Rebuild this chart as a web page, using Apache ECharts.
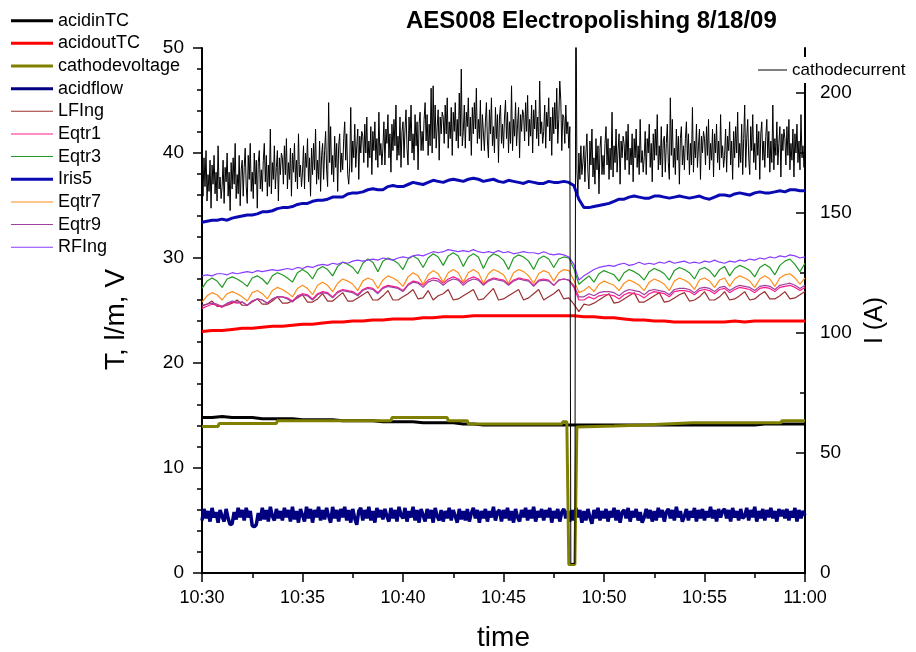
<!DOCTYPE html>
<html>
<head>
<meta charset="utf-8">
<script src="https://cdn.jsdelivr.net/npm/echarts@6/dist/echarts.min.js"></script>
<style>
  html, body { margin: 0; padding: 0; background: #fff; }
  #chart { width: 916px; height: 652px; }
</style>
</head>
<body>
<div id="chart"></div>
<script>
/* minutes after 10:30 on the x axis */
var xTickLabels = ['10:30', '10:35', '10:40', '10:45', '10:50', '10:55', '11:00'];
var rightTicks = [0, 50, 100, 150, 200];

function steps(step, count) {
    var a = [];
    for (var i = 0; i < count; i++) a.push(Math.round(i * step * 1000) / 1000);
    return a;
}
var tDense = steps(0.05, 601); // 10:30 .. 11:00, every 3 s
var tFine = steps(0.1, 301);   // every 6 s
var tMid = steps(0.25, 121);   // every 15 s
var tCoarse = steps(0.5, 61);  // every 30 s

// right axis, A (one row = one minute)
var cathodecurrent = [
    168,157,173,161,176,155,166,159,172,152,170,162,174,158,167,155,178,160,165,156,
    161,172,154,169,163,175,157,167,151,171,160,173,162,179,156,166,158,174,153,168,
    172,157,169,177,161,154,174,164,179,159,167,156,175,162,172,152,171,176,160,168,
    159,172,179,163,174,157,170,161,185,158,171,164,178,160,169,176,155,173,166,175,
    173,162,178,166,181,160,171,164,177,157,175,167,179,163,172,160,183,165,170,161,
    167,178,160,175,169,181,163,173,157,177,166,179,168,185,162,172,164,180,159,174,
    179,164,176,184,168,161,196,171,186,166,174,163,182,169,179,159,178,183,167,175,
    168,181,188,172,183,166,162,170,194,167,180,173,187,169,178,185,164,182,175,184,
    182,171,187,175,190,169,180,173,186,166,184,176,188,172,181,169,192,174,179,170,
    177,188,170,185,179,191,173,183,167,187,176,189,178,195,172,182,174,190,169,184,
    188,173,185,193,177,170,190,180,195,175,183,172,191,178,188,168,187,192,176,184,
    176,189,196,180,191,174,187,178,202,175,203,181,195,177,186,193,172,190,183,192,
    190,179,195,183,198,177,188,181,194,174,192,184,196,180,189,177,200,182,210,178,
    184,195,177,192,186,198,180,190,174,194,183,196,185,202,179,189,181,197,176,191,
    191,176,188,196,180,173,193,183,198,178,186,175,194,181,191,171,190,195,179,187,
    177,190,197,181,192,175,188,179,203,176,189,182,196,178,187,194,173,191,184,193,
    191,180,196,184,199,178,189,182,195,175,193,185,197,181,190,178,205,183,188,179,
    184,195,177,192,186,198,180,190,174,194,183,196,185,202,179,189,205,197,176,191,
    190,179,195,183,188,177,186,4,4,4,4,4,260,168,158,175,164,178,166,171,
    178,163,175,183,167,160,180,170,185,165,173,162,181,168,178,158,177,182,166,174,
    166,179,186,170,181,164,177,168,192,165,178,171,185,167,176,183,162,180,173,182,
    179,168,184,172,187,166,177,170,183,163,181,173,185,169,178,166,189,171,176,167,
    173,184,166,181,175,187,169,179,163,183,172,185,174,191,168,178,170,186,165,180,
    182,167,179,187,171,164,198,174,189,169,177,166,185,172,182,162,181,186,170,178,
    168,181,188,172,183,166,179,170,194,167,180,173,187,169,178,185,164,182,175,184,
    181,170,186,174,189,168,179,172,185,165,183,175,187,171,180,168,191,173,178,169,
    174,185,167,182,176,188,170,180,164,184,173,186,175,192,169,179,171,187,166,181,
    195,169,181,189,173,166,186,176,191,171,179,168,187,174,184,164,183,188,172,180,
    169,182,189,173,184,167,180,171,195,168,181,174,188,170,179,186,165,183,176,185,
    181,170,186,174,189,168,179,172,185,165,183,175,187,171,180,168,191,173,178,169,
    176
];

var acidflow = [
    5.0,6.1,5.2,5.9,4.9,6.2,5.3,5.8,4.8,6.0,
    5.4,4.9,6.1,5.2,4.6,4.7,5.8,5.1,6.2,5.3,
    6.0,5.0,6.2,5.3,5.9,4.5,4.4,4.6,5.7,5.0,
    6.2,5.1,6.0,4.9,6.3,5.4,5.0,6.1,5.2,5.9,
    5.0,6.2,5.3,6.0,4.9,6.3,5.1,5.9,4.8,6.1,
    5.5,4.9,6.3,5.2,6.1,4.8,6.0,5.3,6.3,5.0,
    6.0,5.1,6.2,5.4,4.8,6.3,5.2,6.0,4.9,6.1,
    5.3,6.3,5.0,6.0,4.8,6.1,5.2,4.6,5.9,6.2,
    5.0,6.0,5.2,6.3,5.0,5.9,4.8,6.2,5.3,6.0,
    5.1,6.1,5.4,4.9,6.2,5.2,6.0,4.9,6.3,5.5,
    5.2,6.2,4.9,5.9,5.3,6.3,5.0,6.0,4.8,6.1,
    5.5,4.9,6.1,5.2,6.0,4.8,6.2,5.4,5.0,6.0,
    4.9,5.9,5.2,6.2,5.0,6.0,5.4,4.8,6.1,5.1,
    5.9,5.0,6.1,4.9,5.7,6.2,5.2,6.0,4.8,5.9,
    5.2,6.1,4.9,5.9,5.3,6.3,5.0,5.8,6.0,4.9,
    6.0,5.2,6.2,5.0,5.9,4.8,6.1,5.3,4.9,6.0,
    5.3,6.2,5.0,6.0,5.2,6.3,4.9,5.9,5.3,6.1,
    5.0,6.0,5.3,6.2,4.8,5.9,5.2,6.1,4.9,5.8,
    6.1,5.2,5.9,4.9,6.0,5.0,6.2,5.3,6.0,4.8,
    5.9,5.0,6.1,5.3,4.7,6.0,5.2,6.2,5.0,5.9,
    5.2,6.1,4.9,5.9,5.3,6.2,5.0,6.0,4.8,5.8,
    6.0,5.2,6.2,4.9,5.9,5.3,6.1,5.0,5.8,4.8,
    5.3,6.1,5.2,6.0,4.9,5.9,5.0,6.2,5.3,6.0,
    4.9,5.8,6.1,5.2,6.0,5.0,6.3,5.3,5.9,4.9,
    5.4,6.1,5.0,5.9,5.3,6.2,4.9,6.0,5.2,6.1,
    5.0,5.9,5.3,6.3,5.2,6.0,4.9,6.1,5.3,5.9,
    6.1,5.2,6.0,4.9,6.2,5.3,5.9,5.0,6.1,5.2,
    5.4,6.2,5.0,6.0,5.3,6.3,4.9,5.9,5.2,6.1,
    5.0,6.0,5.3,6.2,5.2,5.9,4.9,6.1,5.4,6.0,
    5.2,6.1,5.0,5.9,5.3,6.2,4.9,6.0,5.2,5.9,
    5.5
];

var iris5 = [
    33.4,33.5,33.6,33.6, 33.7,33.6,33.8,33.9, 34.0,34.1,34.1,34.2, 34.4,34.4,34.5,34.7,
    34.8,34.8,34.9,35.1, 35.2,35.2,35.4,35.5, 35.5,35.6,35.8,35.8, 35.8,36.1,36.2,36.2,
    36.3,36.5,36.6,36.5, 36.5,36.8,36.9,36.8, 36.8,37.0,37.2,37.1, 37.0,37.2,37.4,37.3,
    37.2,37.4,37.5,37.4, 37.3,37.5,37.6,37.5, 37.3,37.4,37.5,37.3, 37.2,37.4,37.3,37.2,
    37.1,37.3,37.2,37.1, 37.1,37.3,37.2,37.2, 37.3,37.2,36.9,35.6, 34.8,34.8,34.9,35.0,
    35.1,35.2,35.4,35.6, 35.6,35.8,35.9,35.8, 35.7,35.7,35.9,35.9, 35.8,35.7,35.8,35.9,
    35.8,35.7,35.8,35.9, 35.7,35.6,35.8,36.0, 36.0,35.9,36.1,36.2, 36.1,36.0,36.2,36.3,
    36.2,36.2,36.3,36.4, 36.3,36.5,36.5,36.4, 36.4
];

var rfIng = [
    28.3,28.4,28.3,28.5, 28.5,28.4,28.6,28.5, 28.6,28.7,28.6,28.8, 28.7,28.8,28.9,28.8,
    28.9,29.0,28.9,29.1, 29.0,29.2,29.1,29.3, 29.4,29.3,29.5,29.4, 29.6,29.5,29.7,29.8,
    29.7,29.8,29.9,29.8, 30.0,29.9,29.8,30.0, 30.1,30.0,30.2,30.3, 30.2,30.4,30.6,30.5,
    30.6,30.8,30.7,30.6, 30.7,30.6,30.8,30.6, 30.5,30.6,30.5,30.7, 30.5,30.6,30.4,30.5,
    30.6,30.5,30.5,30.4, 30.6,30.4,30.3,30.4, 30.3,30.1,29.4,27.9, 28.3,28.6,28.9,29.1,
    29.2,29.3,29.2,29.4, 29.5,29.3,29.4,29.6, 29.4,29.5,29.4,29.6, 29.5,29.7,29.5,29.6,
    29.7,29.5,29.6,29.5, 29.7,29.6,29.8,29.6, 29.5,29.7,29.6,29.8, 29.7,29.9,29.8,30.0,
    29.9,30.1,30.0,30.2, 30.1,30.3,30.2,30.0, 30.1
];

var eqtr3 = [
    27.1,27.8,28.1,27.8, 27.2,28.0,28.2,28.0, 27.7,27.3,28.1,28.3, 28.0,27.5,28.3,28.6,
    28.4,28.1,27.7,28.6, 28.9,28.6,28.0,28.9, 29.2,28.9,28.3,29.2, 29.6,29.4,29.1,28.5,
    29.5,29.9,29.6,28.7, 29.7,30.0,29.8,29.5, 28.9,29.9,30.2,29.9, 29.1,30.0,30.4,30.1,
    29.3,30.2,30.5,30.2, 29.2,30.1,30.4,30.1, 29.0,30.0,30.4,30.2, 29.8,28.9,30.0,30.3,
    30.1,29.7,28.9,29.9, 30.2,29.9,29.1,29.9, 30.1,30.0,29.0,27.5, 27.9,28.3,27.7,28.5,
    28.8,28.6,28.4,27.8, 28.6,28.9,28.7,28.4, 27.9,28.7,29.0,28.8, 28.5,27.9,28.8,29.1,
    28.9,28.6,28.0,28.9, 29.1,28.8,28.2,28.9, 29.2,28.3,29.0,29.3, 29.1,28.8,28.2,29.1,
    29.4,29.1,28.4,29.3, 29.7,29.9,29.4,28.7, 29.5
];

var eqtr7 = [
    25.8,26.4,26.7,26.5, 26.0,26.6,26.8,26.6, 26.3,25.9,26.7,26.9, 26.6,26.1,26.9,27.2,
    27.0,26.7,26.3,27.1, 27.4,27.1,26.5,27.4, 27.7,27.4,26.8,27.6, 28.0,27.8,27.5,26.9,
    27.8,28.1,27.9,27.1, 27.9,28.3,28.1,27.8, 27.3,28.2,28.6,28.3, 27.5,28.4,28.8,28.5,
    27.7,28.6,28.9,28.6, 27.7,28.6,28.9,28.6, 27.6,28.5,28.9,28.7, 28.4,27.6,28.6,28.9,
    28.7,28.3,27.6,28.5, 28.8,28.6,27.8,28.6, 28.9,28.8,27.9,26.7, 26.9,27.3,26.8,27.5,
    27.8,27.6,27.4,26.9, 27.6,27.9,27.7,27.4, 26.9,27.7,28.0,27.8, 27.5,26.9,27.8,28.1,
    27.9,27.6,27.0,27.9, 28.1,27.8,27.2,27.9, 28.1,27.3,28.0,28.3, 28.1,27.8,27.2,28.0,
    28.3,28.0,27.3,28.1, 28.4,28.5,28.1,27.5, 28.1
];

var eqtr1 = [
    25.2,25.4,25.6,25.5, 25.3,25.6,25.8,25.7, 25.8,25.5,25.9,26.1, 26.0,25.7,26.1,26.3,
    26.3,26.2,25.9,26.4, 26.6,26.5,26.1,26.6, 26.8,26.7,26.3,26.8, 27.0,26.9,26.8,26.5,
    27.0,27.2,27.1,26.7, 27.2,27.4,27.3,27.2, 26.9,27.5,27.8,27.7, 27.4,27.9,28.1,28.0,
    27.6,28.0,28.2,28.0, 27.6,28.0,28.2,28.0, 27.5,27.9,28.1,28.0, 27.9,27.5,27.9,28.1,
    28.0,27.9,27.4,27.9, 28.0,27.9,27.4,27.9, 28.0,27.9,27.2,26.0, 26.0,26.3,26.1,26.4,
    26.5,26.5,26.4,26.1, 26.5,26.7,26.6,26.5, 26.2,26.6,26.8,26.7, 26.6,26.3,26.8,26.9,
    26.9,26.8,26.5,26.9, 27.0,26.9,26.6,27.0, 27.1,26.7,27.0,27.2, 27.1,27.0,26.7,27.1,
    27.2,27.1,26.8,27.2, 27.3,27.4,27.2,26.9, 27.2
];

var eqtr9 = [
    25.5,25.6,25.7,25.6, 25.4,25.7,25.9,25.8, 25.8,25.5,25.9,26.1, 26.0,25.7,26.1,26.3,
    26.3,26.1,25.8,26.3, 26.5,26.4,26.0,26.5, 26.7,26.6,26.2,26.7, 26.9,26.8,26.7,26.4,
    26.9,27.1,27.0,26.6, 27.1,27.3,27.2,27.1, 26.8,27.4,27.7,27.6, 27.2,27.7,27.9,27.8,
    27.4,27.8,28.0,27.9, 27.4,27.8,28.0,27.9, 27.4,27.8,28.0,27.9, 27.8,27.4,27.8,28.0,
    27.9,27.8,27.3,27.8, 27.9,27.8,27.4,27.9, 28.0,27.9,27.4,26.3, 26.3,26.6,26.4,26.7,
    26.8,26.8,26.7,26.4, 26.8,27.0,26.9,26.8, 26.5,26.9,27.0,26.9, 26.8,26.5,27.0,27.1,
    27.1,27.0,26.7,27.1, 27.2,27.1,26.8,27.2, 27.3,26.9,27.2,27.4, 27.3,27.2,26.9,27.3,
    27.4,27.3,27.0,27.4, 27.5,27.6,27.4,27.1, 27.4
];

var lfIng = [
    25.4,25.6,25.9,25.4, 25.4,25.5,25.7,26.0, 25.5,25.5,25.8,26.1, 25.6,25.6,25.9,26.3,
    25.7,25.7,25.9,26.2, 26.5,25.8,25.8,26.1, 26.6,25.9,25.9,26.3, 26.7,25.9,25.9,26.2,
    26.5,26.8,26.0,26.0, 26.4,26.9,26.0,26.0, 26.3,26.6,27.0,26.1, 26.2,26.9,26.0,26.4,
    26.6,27.0,26.0,26.1, 26.4,26.7,27.0,26.0, 26.1,26.6,27.1,26.0, 26.1,26.4,26.7,27.0,
    26.0,26.2,26.6,27.0, 26.0,26.3,26.6,27.0, 26.1,26.2,25.6,24.9, 25.6,25.5,25.7,26.0,
    26.3,26.6,25.7,25.8, 26.1,26.4,26.7,25.8, 25.8,26.1,26.4,26.7, 25.8,25.9,26.2,26.5,
    26.7,25.9,26.0,26.3, 26.8,26.0,26.0,26.3, 26.8,26.0,26.1,26.4, 26.8,26.0,26.1,26.5,
    26.8,26.1,26.1,26.4, 26.8,26.1,26.2,26.5, 26.8
];

var acidoutTC = [
    23.0,23.1,23.1,23.2,23.3,23.3,23.4,23.5,23.5,23.6,
    23.7,23.7,23.8,23.9,23.9,24.0,24.0,24.1,24.1,24.2,
    24.2,24.2,24.3,24.3,24.4,24.4,24.4,24.5,24.5,24.5,
    24.5,24.5,24.5,24.5,24.5,24.5,24.5,24.5,24.4,24.4,
    24.3,24.3,24.2,24.1,24.1,24.0,24.0,23.9,23.9,23.9,
    23.9,23.9,23.9,24.0,23.9,24.0,24.0,24.0,24.0,24.0,
    24.0
];

var acidinTC = [
    14.8,14.8,14.9,14.8,14.8,14.8,14.7,14.7,14.7,14.7,
    14.6,14.6,14.6,14.6,14.5,14.5,14.5,14.5,14.4,14.4,
    14.4,14.4,14.3,14.3,14.3,14.3,14.2,14.2,14.1,14.1,
    14.1,14.1,14.1,14.1,14.1,14.1,14.1,14.1,14.1,14.1,
    14.1,14.1,14.1,14.1,14.1,14.1,14.1,14.1,14.1,14.1,
    14.1,14.1,14.1,14.1,14.1,14.1,14.2,14.2,14.2,14.2,
    14.2
];

// stepped trace, read at its break points
var voltTime = [0, 0.8, 0.85, 3.7, 3.75, 9.4, 9.45, 12.2, 12.25, 13.2, 13.25, 17.9, 17.95, 18.15, 18.25, 18.55, 18.65, 20.5, 22.0, 24.4, 28.8, 28.85, 30];
var voltValue = [13.95, 13.95, 14.25, 14.25, 14.5, 14.5, 14.8, 14.8, 14.5, 14.5, 14.2, 14.2, 14.4, 14.4, 0.8, 0.8, 13.9, 14.0, 14.1, 14.3, 14.3, 14.5, 14.5];

var legendNames = ['acidinTC', 'acidoutTC', 'cathodevoltage', 'acidflow', 'LFIng', 'Eqtr1', 'Eqtr3', 'Iris5', 'Eqtr7', 'Eqtr9', 'RFIng'];
var thickNames = ['acidinTC', 'acidoutTC', 'cathodevoltage', 'acidflow', 'Iris5'];

function pairs(ts, vs) {
    return ts.map(function(t, i) { return [t, vs[i]]; });
}

var FONT = 'Liberation Sans, Arial, sans-serif';

function line(name, ts, vs, color, width, yIndex) {
    return {
        name: name,
        type: 'line',
        yAxisIndex: yIndex || 0,
        data: pairs(ts, vs),
        symbol: 'none',
        showSymbol: false,
        lineStyle: { color: color, width: width },
        itemStyle: { color: color },
        animation: false
    };
}

var legends = legendNames.map(function(n, i) {
    var thick = thickNames.indexOf(n) >= 0;
    return {
        data: [n],
        left: 11,
        top: 20.7 + 22.65 * i - 10,
        padding: 0,
        icon: 'rect',
        itemWidth: 42,
        itemHeight: thick ? 3 : 1,
        textStyle: { fontSize: 18, fontFamily: FONT, color: '#000', lineHeight: 20 },
        selectedMode: false
    };
});
legends.push({
    data: ['cathodecurrent'],
    left: 756,
    top: 57,
    padding: [3, 4, 3, 2],
    backgroundColor: '#fff',
    icon: 'rect',
    itemWidth: 29,
    itemHeight: 1,
    textStyle: { fontSize: 17, fontFamily: FONT, color: '#000', lineHeight: 20 },
    selectedMode: false
});

var option = {
    backgroundColor: '#fff',
    animation: false,
    title: {
        text: 'AES008 Electropolishing 8/18/09',
        left: 401,
        top: 4,
        textStyle: { fontSize: 24, fontWeight: 'bold', fontFamily: FONT, color: '#000' }
    },
    legend: legends,
    grid: { left: 202, right: 111, top: 48, bottom: 79, outerBoundsMode: 'none' },
    xAxis: {
        type: 'value',
        min: 0,
        max: 30,
        interval: 5,
        name: 'time',
        nameLocation: 'middle',
        nameGap: 51,
        nameTextStyle: { fontSize: 28, fontFamily: FONT, color: '#000' },
        axisLine: { lineStyle: { color: '#000', width: 2 } },
        axisTick: { length: 9, lineStyle: { color: '#000', width: 1.5 } },
        minorTick: { show: true, splitNumber: 2, length: 5, lineStyle: { color: '#000', width: 1.5 } },
        axisLabel: {
            fontSize: 18, fontFamily: FONT, color: '#000', margin: 16,
            formatter: function(v) { return xTickLabels[Math.round(v / 5)]; }
        },
        splitLine: { show: false }
    },
    yAxis: [{
        type: 'value',
        min: 0,
        max: 50,
        interval: 10,
        position: 'left',
        name: 'T, l/m, V',
        nameLocation: 'middle',
        nameRotate: 90,
        nameGap: 72,
        nameTextStyle: { fontSize: 28, fontFamily: FONT, color: '#000', padding: [0, 18, 0, 0] },
        axisLine: { show: true, lineStyle: { color: '#000', width: 2 } },
        axisTick: { show: true, length: 9, lineStyle: { color: '#000', width: 1.5 } },
        minorTick: { show: true, splitNumber: 5, length: 5, lineStyle: { color: '#000', width: 1.5 } },
        axisLabel: { fontSize: 19, fontFamily: FONT, color: '#000', margin: 18 },
        splitLine: { show: false }
    }, {
        type: 'value',
        min: 0,
        max: 218.75,
        interval: 50,
        position: 'right',
        name: 'I (A)',
        nameLocation: 'middle',
        nameRotate: 90,
        nameGap: 54,
        nameTextStyle: { fontSize: 25, fontFamily: FONT, color: '#000', padding: [0, 20, 0, 0] },
        axisLine: { show: true, lineStyle: { color: '#000', width: 2 } },
        axisTick: { show: true, inside: true, length: 9, customValues: rightTicks, lineStyle: { color: '#000', width: 1.5 } },
        minorTick: { show: true, splitNumber: 2, length: 5, lineStyle: { color: '#000', width: 1.5 } },
        axisLabel: { fontSize: 19, fontFamily: FONT, color: '#000', margin: 15, customValues: rightTicks },
        splitLine: { show: false }
    }],
    series: [
        line('acidflow', tFine, acidflow, '#000080', 3.5),
        line('acidinTC', tCoarse, acidinTC, '#000000', 3),
        line('cathodevoltage', voltTime, voltValue, '#808000', 3),
        line('acidoutTC', tCoarse, acidoutTC, '#ff0000', 3),
        line('LFIng', tMid, lfIng, '#9a3030', 1.2),
        line('Eqtr1', tMid, eqtr1, '#ff1a8c', 1.2),
        line('Eqtr9', tMid, eqtr9, '#a040a0', 1.2),
        line('Eqtr7', tMid, eqtr7, '#ff8c1a', 1.2),
        line('Eqtr3', tMid, eqtr3, '#229922', 1.2),
        line('RFIng', tMid, rfIng, '#8a3cff', 1.2),
        line('Iris5', tMid, iris5, '#0a0ab4', 3),
        line('cathodecurrent', tDense, cathodecurrent, '#000000', 1, 1)
    ]
};

var myChart = echarts.init(document.getElementById('chart'));
myChart.setOption(option);
</script>
</body>
</html>
